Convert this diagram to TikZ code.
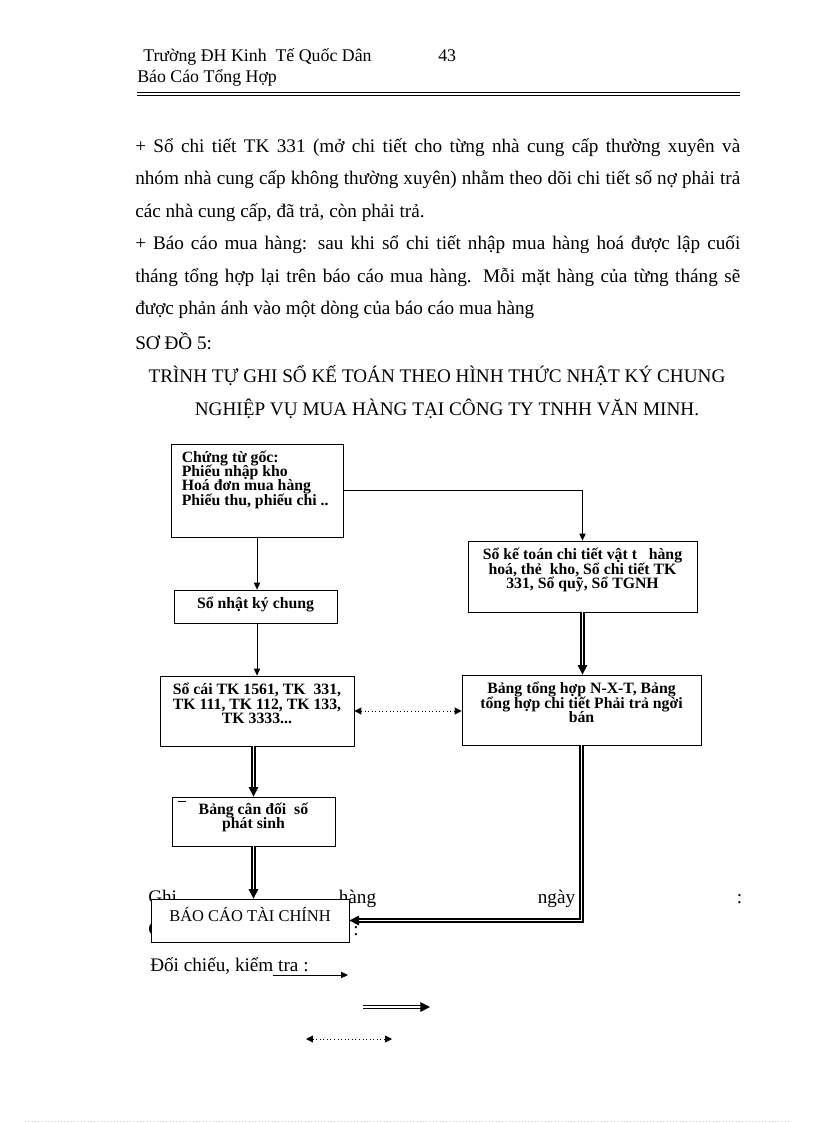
\documentclass[tikz,border=0pt]{standalone}
\usepackage{fontspec}
\setmainfont{Liberation Serif}
\usetikzlibrary{positioning,arrows.meta}

\newdimen\pxd \pxd=0.7294pt
\newcommand\jline[2]{\makebox[#1\pxd][s]{#2}}
\newcommand\boxfont{\fontsize{11.5}{10.5}\selectfont\bfseries\lineskiplimit=-20pt\relax}

\tikzset{
  box/.style={draw, line width=0.6pt, fill=white, inner sep=0pt},
  sz/.style 2 args={minimum width=#1*\pxd, minimum height=#2*\pxd},
  btxt/.style={font=\boxfont, inner sep=0pt, align=center},
  body/.style={font=\fontsize{14}{16}\selectfont, inner sep=0pt, anchor=base west},
  head/.style={font=\fontsize{13}{15}\selectfont, inner sep=0pt, anchor=base west},
  arr/.style={line width=0.6pt, -{Triangle[length=5pt,width=4.5pt]}},
  dbl/.style={double, double distance=1.3pt, line width=0.85pt, -{Triangle[length=7pt,width=7pt]}},
  dotarr/.style={dotted, line width=0.6pt, {Triangle[length=5pt,width=5pt]}-{Triangle[length=5pt,width=5pt]}}
}

\begin{document}
\begin{tikzpicture}[x=0.7294pt, y=-0.7294pt]
\useasboundingbox (0,0) rectangle (816,1123);

% header
\node[head] (truong) at (143,61) {Trường ĐH Kinh\ \ Tế Quốc Dân};
\node[head] (trang) at (438,61) {43};
\node[head] (bcth) at (137,82) {Báo Cáo Tổng Hợp};
\draw[line width=0.6pt] (137,92) -- (740,92);
\draw[line width=0.9pt] (137,95.5) -- (740,95.5);

% text above the chart
\node[body] (p1) at (135,152.5) {\jline{605}{+ Sổ chi tiết TK 331 (mở chi tiết cho từng nhà cung cấp thường xuyên và}};
\node[body] (p2) at (135,184.9) {\jline{605}{nhóm nhà cung cấp không thường xuyên) nhằm theo dõi chi tiết số nợ phải trả}};
\node[body] (p3) at (135,217.3) {các nhà cung cấp, đã trả, còn phải trả.};
\node[body] (p4) at (135,249.7) {\jline{605}{+ Báo cáo mua hàng: sau khi sổ chi tiết nhập mua hàng hoá được lập cuối}};
\node[body] (p5) at (135,282.1) {\jline{605}{tháng tổng hợp lại trên báo cáo mua hàng. Mỗi mặt hàng của từng tháng sẽ}};
\node[body] (p6) at (135,314.5) {được phản ánh vào một dòng của báo cáo mua hàng};
\node[body] (sodo) at (135,349) {SƠ ĐỒ 5:};
\node[body, anchor=base] (title1) at (437,382) {TRÌNH TỰ GHI SỔ KẾ TOÁN THEO HÌNH THỨC NHẬT KÝ CHUNG};
\node[body, anchor=base] (title2) at (447,415) {NGHIỆP VỤ MUA HÀNG TẠI CÔNG TY TNHH VĂN MINH.};

% legend text (partly under the last box)
\node[body] (ghi1) at (148,903) {\jline{594}{Ghi hàng ngày :}};
\node[body] (ghi2) at (148,935.4) {Ghi};
\node[body] (ghi2c) at (353,935.4) {:};
\node[body] (doichieu) at (150,971) {Đối chiếu, kiểm tra :};

% boxes
\node[box, sz={172}{93}] (ctg) at (257,490.5) {};
\node[box, sz={163}{33}] (nkc) at (255.5,606.5) {};
\node[box, sz={194}{70}] (soc) at (257,711) {};
\node[box, sz={163}{49}] (cdps) at (253.5,821.5) {};
\node[box, sz={198}{43}] (bctc) at (250,920.5) {};
\node[box, sz={229}{71}] (sct) at (582.5,576.5) {};
\node[box, sz={239}{70}] (bth) at (581.5,710) {};

\node[btxt, align=left, below right=5pt and 8pt of ctg.north west] {Chứng từ gốc:\\Phiếu nhập kho\\Hoá đơn mua hàng\\Phiếu thu, phiếu chi ..};
\node[btxt, below=5pt of nkc.north] {Sổ nhật ký chung};
\node[btxt, below=5.5pt of soc.north] {Sổ cái TK 1561, TK\ \ 331,\\TK 111, TK 112, TK 133,\\TK 3333...};
\node[btxt, below=4.5pt of cdps.north] {Bảng cân đối\ \ số\\phát sinh};
\node[btxt, font=\fontsize{12}{14}\selectfont, below=6pt of bctc.north] {BÁO CÁO TÀI CHÍNH};
\node[btxt, below=5.5pt of sct.north] {Sổ kế toán chi tiết vật t\ \ \ hàng\\hoá, thẻ\ \ kho, Sổ chi tiết TK\\331, Sổ quỹ, Sổ TGNH};
\node[btxt, below=5.5pt of bth.north] {Bảng tổng hợp N-X-T, Bảng\\tổng hợp chi tiết Phải trả ngời\\bán};
\draw[line width=0.5pt] (178,801) -- (186,801);

% connectors
\draw[arr] (ctg.east) -| (sct.north);
\draw[arr] (ctg.south) -- (ctg.south |- nkc.north);
\draw[arr] (nkc.south -| ctg.south) -- (ctg.south |- soc.north);
\draw[dbl] (soc.south -| cdps.north) -- (cdps.north);
\draw[dbl] (cdps.south) -- (cdps.south |- bctc.north);
\draw[dbl] (sct.south) -- (sct.south |- bth.north);
\draw[dbl] (bth.south) |- (bctc.east);
\draw[dotarr] (soc.east) -- (soc.east -| bth.west);

% legend arrows
\coordinate (la1) at (273,975);
\coordinate (lb1) at (348,975);
\coordinate (la2) at (363,1007);
\coordinate (lb2) at (430,1007);
\coordinate (la3) at (306,1039);
\coordinate (lb3) at (392,1039);
\draw[arr] (la1) -- (lb1);
\draw[dbl] (la2) -- (lb2);
\draw[dotarr] (la3) -- (lb3);

\draw[dotted, black!20] (25,1121) -- (790,1121);

\end{tikzpicture}
\end{document}
